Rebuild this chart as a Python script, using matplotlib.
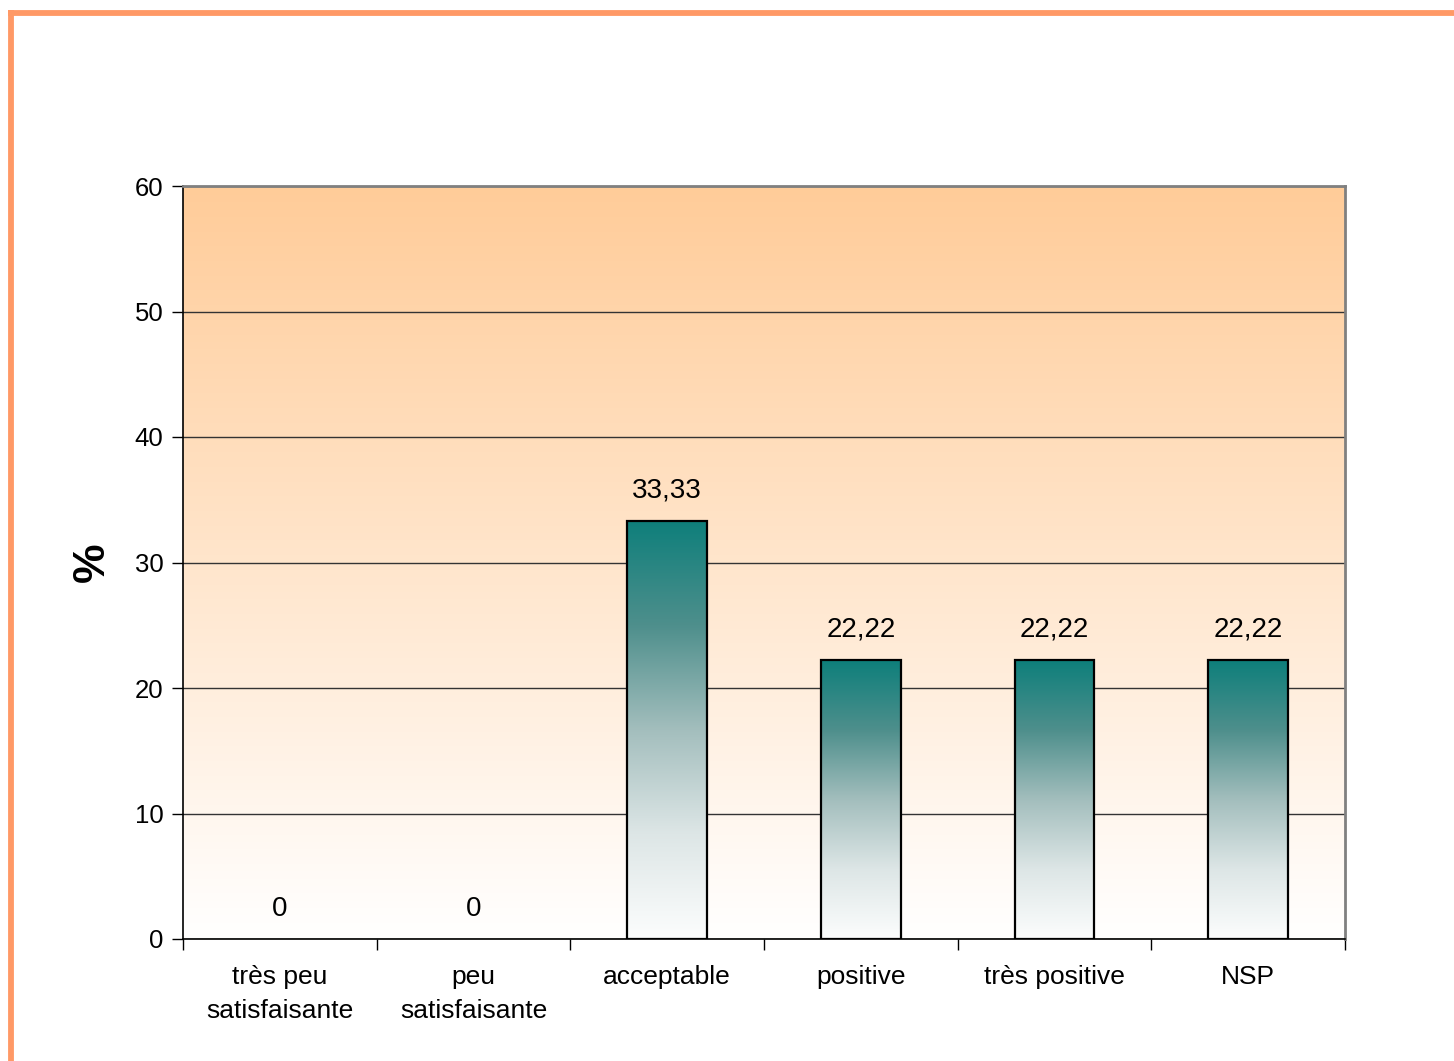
import numpy as np
import matplotlib.pyplot as plt
from matplotlib.colors import LinearSegmentedColormap
from matplotlib.lines import Line2D

plt.rcParams['font.family'] = ['Liberation Sans', 'DejaVu Sans']

categories = ['très peu\nsatisfaisante', 'peu\nsatisfaisante', 'acceptable',
              'positive', 'très positive', 'NSP']
values = [0, 0, 33.33, 22.22, 22.22, 22.22]
value_labels = ['0', '0', '33,33', '22,22', '22,22', '22,22']
yticks = [0, 10, 20, 30, 40, 50, 60]

fig = plt.figure(figsize=(14.54, 10.61), dpi=100)
ax = fig.add_axes([183 / 1454, 1 - 939 / 1061, (1345 - 183) / 1454, (939 - 186) / 1061])

# bordure orange (haut et gauche)
fig.add_artist(Line2D([11 / 1454, 11 / 1454], [0, 1 - 10 / 1061], color='#FF9966', lw=4.2,
                      transform=fig.transFigure, solid_capstyle='butt'))
fig.add_artist(Line2D([8 / 1454, 1], [1 - 13 / 1061, 1 - 13 / 1061], color='#FF9966', lw=4.2,
                      transform=fig.transFigure, solid_capstyle='butt'))

x = np.arange(len(categories))
ax.set_xlim(-0.5, len(categories) - 0.5)
ax.set_ylim(0, 60)

# fond en dégradé orange -> blanc
bg = LinearSegmentedColormap.from_list('bg', ['#FFFFFF', '#FFCC99'])
grad = np.linspace(0, 1, 256).reshape(-1, 1)
ax.imshow(grad, cmap=bg, origin='lower', aspect='auto',
          extent=[-0.5, len(categories) - 0.5, 0, 60], zorder=0)

ax.set_yticks(yticks)
ax.grid(axis='y', color='#333333', lw=1, zorder=1)
ax.set_axisbelow(True)

# barres en dégradé
barcm = LinearSegmentedColormap.from_list(
    'bar', [(0, '#FCFDFD'), (0.25, '#DDE6E6'), (0.5, '#A3BEBD'),
            (0.75, '#4E8F8C'), (1, '#0E7F7B')])
bars = ax.bar(x, values, width=0.41, facecolor='none', edgecolor='black', lw=1.6, zorder=3)
for b in bars:
    if b.get_height() <= 0:
        b.set_visible(False)
        continue
    im = ax.imshow(grad, cmap=barcm, origin='lower', aspect='auto',
                   extent=[b.get_x(), b.get_x() + b.get_width(), 0, b.get_height()], zorder=2)
    im.set_clip_path(b)

for xi, v, lab in zip(x, values, value_labels):
    ax.annotate(lab, (xi, v), xytext=(0, 12.5), textcoords='offset points',
                ha='center', va='bottom', fontsize=20)

ax.set_xticks(x)
ax.set_xticklabels(categories, fontsize=19, linespacing=1.5)
ax.set_xticks(np.arange(-0.5, len(categories)), minor=True)
ax.tick_params(axis='x', which='major', length=0, pad=19)
ax.tick_params(axis='x', which='minor', length=8, width=1, direction='out')
ax.tick_params(axis='y', length=8, width=1, direction='out', labelsize=18.5, pad=6)

ax.set_ylabel('%', fontsize=32, fontweight='bold', labelpad=16)

for s in ['top', 'right']:
    ax.spines[s].set_color('#808080')
    ax.spines[s].set_linewidth(2)
for s in ['left', 'bottom']:
    ax.spines[s].set_color('black')
    ax.spines[s].set_linewidth(1.2)

fig.savefig('out.png', dpi=100)
